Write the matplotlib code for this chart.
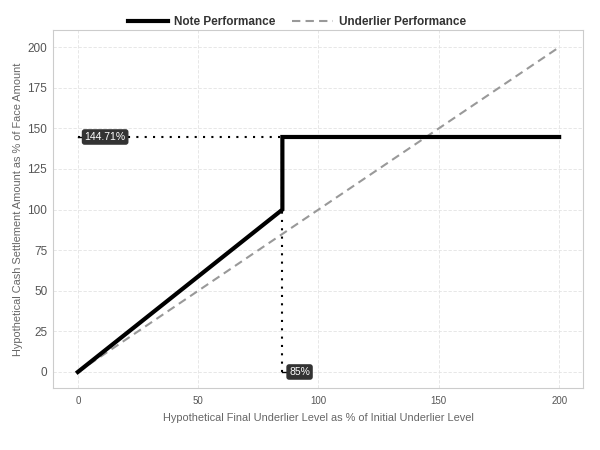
import matplotlib
matplotlib.use("Agg")
import matplotlib.pyplot as plt

plt.rcParams['font.family'] = ['Liberation Sans', 'DejaVu Sans']

# data
underlier_x = [0, 200]
underlier_y = [0, 200]
note_x = [0, 85, 85, 200]
note_y = [0, 100, 144.71, 144.71]
barrier = 85
cap = 144.71
x_ticks = [0, 50, 100, 150, 200]
y_ticks = [0, 25, 50, 75, 100, 125, 150, 175, 200]

fig, ax = plt.subplots(figsize=(6, 4.5), dpi=100)
fig.subplots_adjust(left=0.088, right=0.972, top=0.933, bottom=0.138)

grid_c = '#e3e3e3'
ax.grid(True, color=grid_c, linestyle=(0, (4, 2)), linewidth=0.6)
ax.set_axisbelow(True)

ax.plot(underlier_x, underlier_y, color='#999999', linestyle=(0, (4, 2.5)), linewidth=1.5,
        label='Underlier Performance', zorder=2)
ax.plot(note_x, note_y, color='black', linewidth=3.0, label='Note Performance',
        zorder=3, solid_joinstyle='miter')

ax.plot([0, barrier], [cap, cap], color='black', linestyle=(0, (1, 3)), linewidth=1.5, zorder=4)
ax.plot([barrier, barrier], [0, cap], color='black', linestyle=(0, (1, 3)), linewidth=1.5, zorder=4)

bbox = dict(boxstyle='round,pad=0.2', fc='#333333', ec='#333333')
ax.plot([0, 2.5], [cap, cap], color='black', linewidth=1, zorder=4)
ax.text(2.8, cap, '%.2f%%' % cap, color='white', fontsize=7.5, va='center', ha='left',
        bbox=bbox, zorder=5)
ax.plot([barrier, barrier + 2.5], [0, 0], color='black', linewidth=1, zorder=4)
ax.text(barrier + 2.8, 0, '%d%%' % barrier, color='white', fontsize=7.5, va='center', ha='left',
        bbox=bbox, zorder=5)

ax.set_xlim(-10.4, 210)
ax.set_ylim(-9.8, 210.5)
ax.set_xticks(x_ticks)
ax.set_yticks(y_ticks)
ax.tick_params(axis='x', labelsize=7, colors='#555555', length=0, pad=6)
ax.tick_params(axis='y', labelsize=8.5, colors='#555555', length=0, pad=4)
for s in ax.spines.values():
    s.set_color('#cccccc')
    s.set_linewidth(0.8)

ax.set_xlabel('Hypothetical Final Underlier Level as % of Initial Underlier Level',
              fontsize=7.9, color='#666666', labelpad=5)
ax.set_ylabel('Hypothetical Cash Settlement Amount as % of Face Amount',
              fontsize=7.9, color='#666666')
ax.yaxis.set_label_coords(-0.056, 0.5)

handles, labels = ax.get_legend_handles_labels()
leg = fig.legend(handles[::-1], labels[::-1], loc='center', bbox_to_anchor=(0.495, 0.951),
                 ncol=2, frameon=False, prop={'weight': 'bold', 'size': 8.5},
                 handlelength=3.4, handletextpad=0.55, columnspacing=1.4)
for t in leg.get_texts():
    t.set_color('#333333')

fig.savefig('out.png', dpi=100)
